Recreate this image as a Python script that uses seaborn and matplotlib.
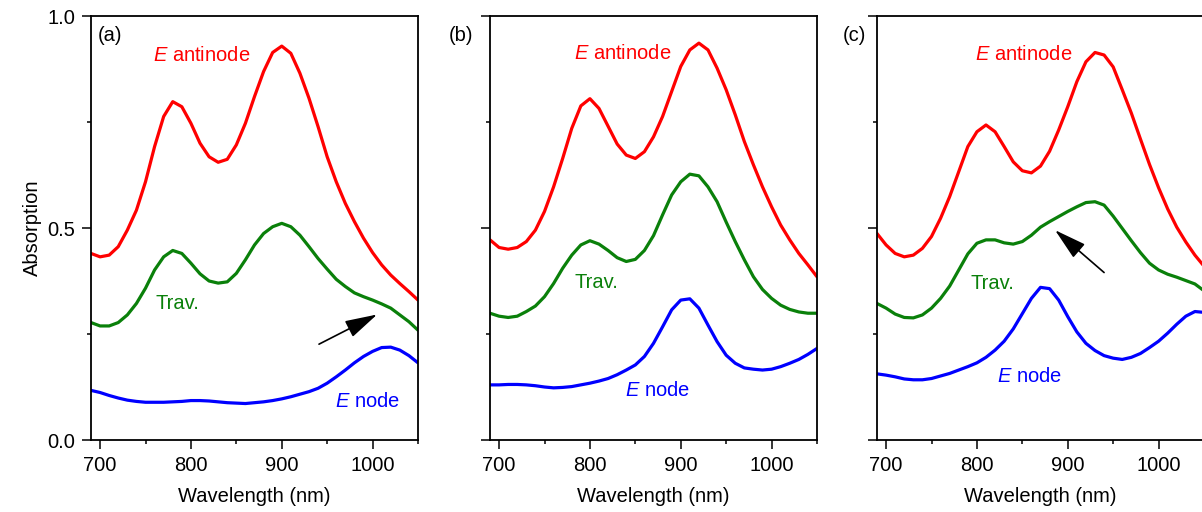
import matplotlib
matplotlib.use("Agg")
import matplotlib.pyplot as plt
import seaborn as sns
import pandas as pd

# wavelength grid (nm)
wavelength = list(range(690, 1060, 10))

# panel (a)
antinode_a = [0.440, 0.432, 0.436, 0.456, 0.495, 0.542, 0.609, 0.692, 0.763, 0.798,
              0.786, 0.747, 0.700, 0.668, 0.655, 0.662, 0.696, 0.747, 0.810, 0.869,
              0.914, 0.929, 0.912, 0.865, 0.806, 0.739, 0.668, 0.609, 0.558, 0.515,
              0.476, 0.442, 0.413, 0.389, 0.369, 0.350, 0.330]
trav_a = [0.277, 0.269, 0.269, 0.277, 0.295, 0.322, 0.358, 0.401, 0.432, 0.447,
          0.440, 0.417, 0.392, 0.375, 0.370, 0.373, 0.393, 0.425, 0.460, 0.487,
          0.503, 0.511, 0.503, 0.483, 0.456, 0.428, 0.403, 0.379, 0.362, 0.347,
          0.338, 0.330, 0.321, 0.311, 0.295, 0.279, 0.259]
node_a = [0.117, 0.112, 0.105, 0.099, 0.094, 0.091, 0.089, 0.089, 0.089, 0.090,
          0.091, 0.093, 0.093, 0.092, 0.090, 0.088, 0.087, 0.086, 0.088, 0.090,
          0.093, 0.097, 0.102, 0.108, 0.114, 0.122, 0.134, 0.149, 0.165, 0.182,
          0.197, 0.209, 0.218, 0.219, 0.212, 0.199, 0.182]

# panel (b)
antinode_b = [0.472, 0.454, 0.450, 0.454, 0.468, 0.495, 0.539, 0.597, 0.664, 0.735,
              0.788, 0.805, 0.782, 0.740, 0.698, 0.672, 0.664, 0.680, 0.715, 0.763,
              0.822, 0.881, 0.920, 0.936, 0.920, 0.877, 0.826, 0.767, 0.704, 0.649,
              0.597, 0.550, 0.507, 0.472, 0.440, 0.413, 0.385]
trav_b = [0.299, 0.292, 0.289, 0.292, 0.303, 0.316, 0.338, 0.369, 0.405, 0.436,
          0.460, 0.470, 0.462, 0.447, 0.430, 0.421, 0.426, 0.447, 0.482, 0.531,
          0.578, 0.609, 0.627, 0.623, 0.597, 0.562, 0.514, 0.468, 0.425, 0.385,
          0.355, 0.334, 0.318, 0.308, 0.302, 0.299, 0.299]
node_b = [0.130, 0.130, 0.131, 0.131, 0.130, 0.128, 0.125, 0.123, 0.124, 0.126,
          0.130, 0.134, 0.139, 0.145, 0.154, 0.165, 0.177, 0.197, 0.228, 0.267,
          0.307, 0.330, 0.333, 0.311, 0.271, 0.232, 0.200, 0.181, 0.170, 0.167,
          0.165, 0.167, 0.173, 0.181, 0.190, 0.202, 0.216]

# panel (c)
antinode_c = [0.487, 0.460, 0.440, 0.432, 0.436, 0.452, 0.480, 0.523, 0.574, 0.633,
              0.692, 0.727, 0.743, 0.727, 0.692, 0.656, 0.635, 0.630, 0.646, 0.681,
              0.731, 0.786, 0.845, 0.892, 0.914, 0.908, 0.880, 0.826, 0.771, 0.710,
              0.650, 0.595, 0.545, 0.502, 0.467, 0.436, 0.410]
trav_c = [0.322, 0.311, 0.297, 0.289, 0.288, 0.295, 0.311, 0.334, 0.363, 0.401,
          0.439, 0.464, 0.472, 0.472, 0.465, 0.462, 0.468, 0.483, 0.502, 0.515,
          0.527, 0.539, 0.550, 0.560, 0.562, 0.554, 0.528, 0.499, 0.470, 0.442,
          0.417, 0.401, 0.391, 0.384, 0.376, 0.368, 0.352]
node_c = [0.156, 0.153, 0.149, 0.144, 0.142, 0.142, 0.145, 0.151, 0.157, 0.165,
          0.173, 0.182, 0.195, 0.212, 0.233, 0.262, 0.298, 0.334, 0.360, 0.357,
          0.330, 0.291, 0.255, 0.228, 0.211, 0.199, 0.193, 0.190, 0.195, 0.204,
          0.218, 0.233, 0.252, 0.273, 0.292, 0.303, 0.301]

panel_names = ["(a)", "(b)", "(c)"]
series_names = ["antinode", "trav", "node"]
colors = {"antinode": "#ff0000", "trav": "#0a800a", "node": "#0000ff"}
curve_labels = {"antinode": r"$\mathit{E}$ antinode", "trav": "Trav.", "node": r"$\mathit{E}$ node"}

rows = []
for pname, curves in zip(panel_names, [(antinode_a, trav_a, node_a),
                                       (antinode_b, trav_b, node_b),
                                       (antinode_c, trav_c, node_c)]):
    for sname, vals in zip(series_names, curves):
        for w, v in zip(wavelength, vals):
            rows.append({"panel": pname, "series": sname, "wl": w, "abs": v})
df = pd.DataFrame(rows)

# label positions (data coords) per panel
label_pos = {
    "(a)": {"antinode": (812, 0.908), "trav": (785, 0.323), "node": (994, 0.090)},
    "(b)": {"antinode": (836, 0.912), "trav": (807, 0.371), "node": (874, 0.116)},
    "(c)": {"antinode": (851, 0.910), "trav": (817, 0.370), "node": (858, 0.149)},
}
panel_tag_x = {"(a)": 711, "(b)": 658, "(c)": 665}
arrows = {"(a)": ((941, 0.226), (1005, 0.296)), "(c)": ((940, 0.395), (886, 0.495))}

sns.set_style("ticks")
plt.rcParams["font.family"] = ["Liberation Sans", "DejaVu Sans"]
plt.rcParams["mathtext.fontset"] = "custom"
plt.rcParams["mathtext.rm"] = "Liberation Sans"
plt.rcParams["mathtext.it"] = "Liberation Sans:italic"
plt.rcParams["axes.edgecolor"] = "black"
plt.rcParams["xtick.color"] = "black"
plt.rcParams["ytick.color"] = "black"
plt.rcParams["text.color"] = "black"
plt.rcParams["axes.labelcolor"] = "black"

fig = plt.figure(figsize=(12.02, 5.12), dpi=100)
lefts = [91 / 1202, 490 / 1202, 877 / 1202]
w_ax = 327 / 1202
bottom, h_ax = 72 / 512, 424 / 512

fs = 14.5
for i, pname in enumerate(panel_names):
    ax = fig.add_axes([lefts[i], bottom, w_ax, h_ax])
    sub = df[df["panel"] == pname]
    sns.lineplot(data=sub, x="wl", y="abs", hue="series", palette=colors,
                 hue_order=series_names, linewidth=2.3, legend=False, ax=ax)
    ax.set_xlim(690, 1050)
    ax.set_ylim(0, 1.0)
    ax.set_xticks([700, 800, 900, 1000])
    ax.set_xticks([750, 850, 950, 1050], minor=True)
    ax.set_yticks([0.0, 0.5, 1.0])
    ax.set_yticks([0.25, 0.75], minor=True)
    ax.tick_params(which="major", direction="out", length=6.5, width=1.1, labelsize=fs, pad=5)
    ax.tick_params(which="minor", direction="out", length=3.2, width=1.1)
    for sp in ax.spines.values():
        sp.set_linewidth(1.3)
        sp.set_visible(True)
    if i == 0:
        ax.set_yticklabels(["0.0", "0.5", "1.0"])
        ax.set_ylabel("Absorption", fontsize=fs, labelpad=4)
    else:
        ax.set_yticklabels([])
        ax.set_ylabel("")
    ax.set_xlabel("Wavelength (nm)", fontsize=fs, labelpad=9)

    for sname in series_names:
        x, y = label_pos[pname][sname]
        ax.text(x, y, curve_labels[sname], color=colors[sname], fontsize=fs,
                ha="center", va="center")
    ax.text(panel_tag_x[pname], 0.954, pname, fontsize=fs, ha="center", va="center",
            clip_on=False)
    if pname in arrows:
        tail, head = arrows[pname]
        ax.annotate("", xy=head, xytext=tail,
                    arrowprops=dict(arrowstyle="-|>,head_length=2.0,head_width=0.55",
                                    color="black", lw=1.2, mutation_scale=10,
                                    shrinkA=0, shrinkB=0))

fig.savefig("out.png", dpi=100)
